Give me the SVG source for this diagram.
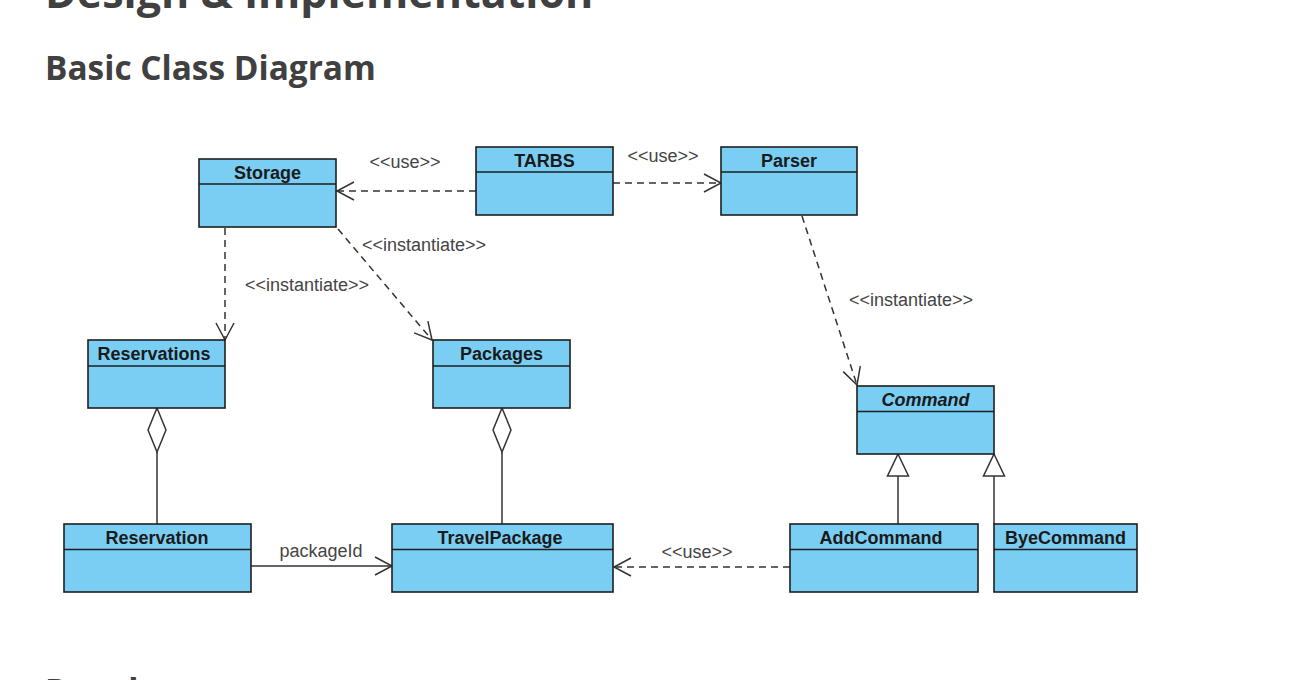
<svg xmlns="http://www.w3.org/2000/svg" width="1298" height="680" viewBox="0 0 1298 680">
<style>
.h{font-family:"Open Sans","Noto Sans","DejaVu Sans",sans-serif;font-weight:700;fill:#404040}
.box{fill:#7acef4;stroke:#1e1e1e;stroke-width:1.6}
.div{stroke:#1e1e1e;stroke-width:1.6}
.name{font-family:"Liberation Sans",Arial,sans-serif;font-weight:700;font-size:18px;fill:#1a1a1a;text-anchor:middle}
.lbl{font-family:"Liberation Sans",Arial,sans-serif;font-size:18px;fill:#444;text-anchor:middle}
.dash{fill:none;stroke:#333;stroke-width:1.5;stroke-dasharray:7 5}
.solid{fill:none;stroke:#333;stroke-width:1.5}
.hollow{fill:#fff;stroke:#333;stroke-width:1.5}
</style>
<defs>
<marker id="open" viewBox="-18 -11 20 22" markerWidth="20" markerHeight="22" refX="0" refY="0" orient="auto" markerUnits="userSpaceOnUse">
<path d="M-17 -9 L0 0 L-17 9" fill="none" stroke="#333" stroke-width="1.5"/>
</marker>
</defs>
<rect width="1298" height="680" fill="#fff"/>
<text class="h" x="45" y="8" font-size="43">Design &amp; Implementation</text>
<text class="h" x="45" y="80" font-size="33.4">Basic Class Diagram</text>
<text class="h" x="45" y="703" font-size="33.4">Development</text>

<g id="connectors">
<path class="dash" d="M476 191 H337" marker-end="url(#open)"/>
<text class="lbl" x="405" y="168">&lt;&lt;use&gt;&gt;</text>
<path class="dash" d="M613 183 H721" marker-end="url(#open)"/>
<text class="lbl" x="663" y="162">&lt;&lt;use&gt;&gt;</text>
<path class="dash" d="M225 228 V340" marker-end="url(#open)"/>
<text class="lbl" x="307" y="291">&lt;&lt;instantiate&gt;&gt;</text>
<path class="dash" d="M338 229 L432 340" marker-end="url(#open)"/>
<text class="lbl" x="424" y="251">&lt;&lt;instantiate&gt;&gt;</text>
<path class="dash" d="M802 216 L857 385" marker-end="url(#open)"/>
<text class="lbl" x="911" y="306">&lt;&lt;instantiate&gt;&gt;</text>
<path class="solid" d="M157 452 V524"/>
<polygon class="hollow" points="157,408 166,430 157,452 148,430"/>
<path class="solid" d="M502 452 V524"/>
<polygon class="hollow" points="502,408 511,430 502,452 493,430"/>
<path class="solid" d="M251 566 H392" marker-end="url(#open)"/>
<text class="lbl" x="321" y="557">packageId</text>
<path class="dash" d="M790 567 H614" marker-end="url(#open)"/>
<text class="lbl" x="697" y="558">&lt;&lt;use&gt;&gt;</text>
<path class="solid" d="M898 476 V524"/>
<polygon class="hollow" points="898,454 908.5,476 887.5,476"/>
<path class="solid" d="M994 476 V524"/>
<polygon class="hollow" points="994,454 1004.5,476 983.5,476"/>
</g>

<g id="Storage"><rect class="box" x="199" y="159" width="137" height="68"/><line class="div" x1="199" y1="184" x2="336" y2="184"/><text class="name" x="267.5" y="178.5">Storage</text></g>
<g id="TARBS"><rect class="box" x="476" y="147" width="137" height="68"/><line class="div" x1="476" y1="172" x2="613" y2="172"/><text class="name" x="544.5" y="166.5">TARBS</text></g>
<g id="Parser"><rect class="box" x="721" y="147" width="136" height="68"/><line class="div" x1="721" y1="172" x2="857" y2="172"/><text class="name" x="789" y="166.5">Parser</text></g>
<g id="Reservations"><rect class="box" x="88" y="340" width="137" height="68"/><line class="div" x1="88" y1="366" x2="225" y2="366"/><text class="name" x="154" y="359.5">Reservations</text></g>
<g id="Packages"><rect class="box" x="433" y="340" width="137" height="68"/><line class="div" x1="433" y1="366" x2="570" y2="366"/><text class="name" x="501.5" y="359.5">Packages</text></g>
<g id="Command"><rect class="box" x="857" y="386" width="137" height="68"/><line class="div" x1="857" y1="411.5" x2="994" y2="411.5"/><text class="name" x="925.5" y="405.5" font-style="italic">Command</text></g>
<g id="Reservation"><rect class="box" x="64" y="524" width="187" height="68"/><line class="div" x1="64" y1="549.5" x2="251" y2="549.5"/><text class="name" x="157" y="543.5">Reservation</text></g>
<g id="TravelPackage"><rect class="box" x="392" y="524" width="221" height="68"/><line class="div" x1="392" y1="549.5" x2="613" y2="549.5"/><text class="name" x="500" y="543.5">TravelPackage</text></g>
<g id="AddCommand"><rect class="box" x="790" y="524" width="188" height="68"/><line class="div" x1="790" y1="549.5" x2="978" y2="549.5"/><text class="name" x="881" y="543.5">AddCommand</text></g>
<g id="ByeCommand"><rect class="box" x="994" y="524" width="143" height="68"/><line class="div" x1="994" y1="549.5" x2="1137" y2="549.5"/><text class="name" x="1065.5" y="543.5">ByeCommand</text></g>
</svg>
